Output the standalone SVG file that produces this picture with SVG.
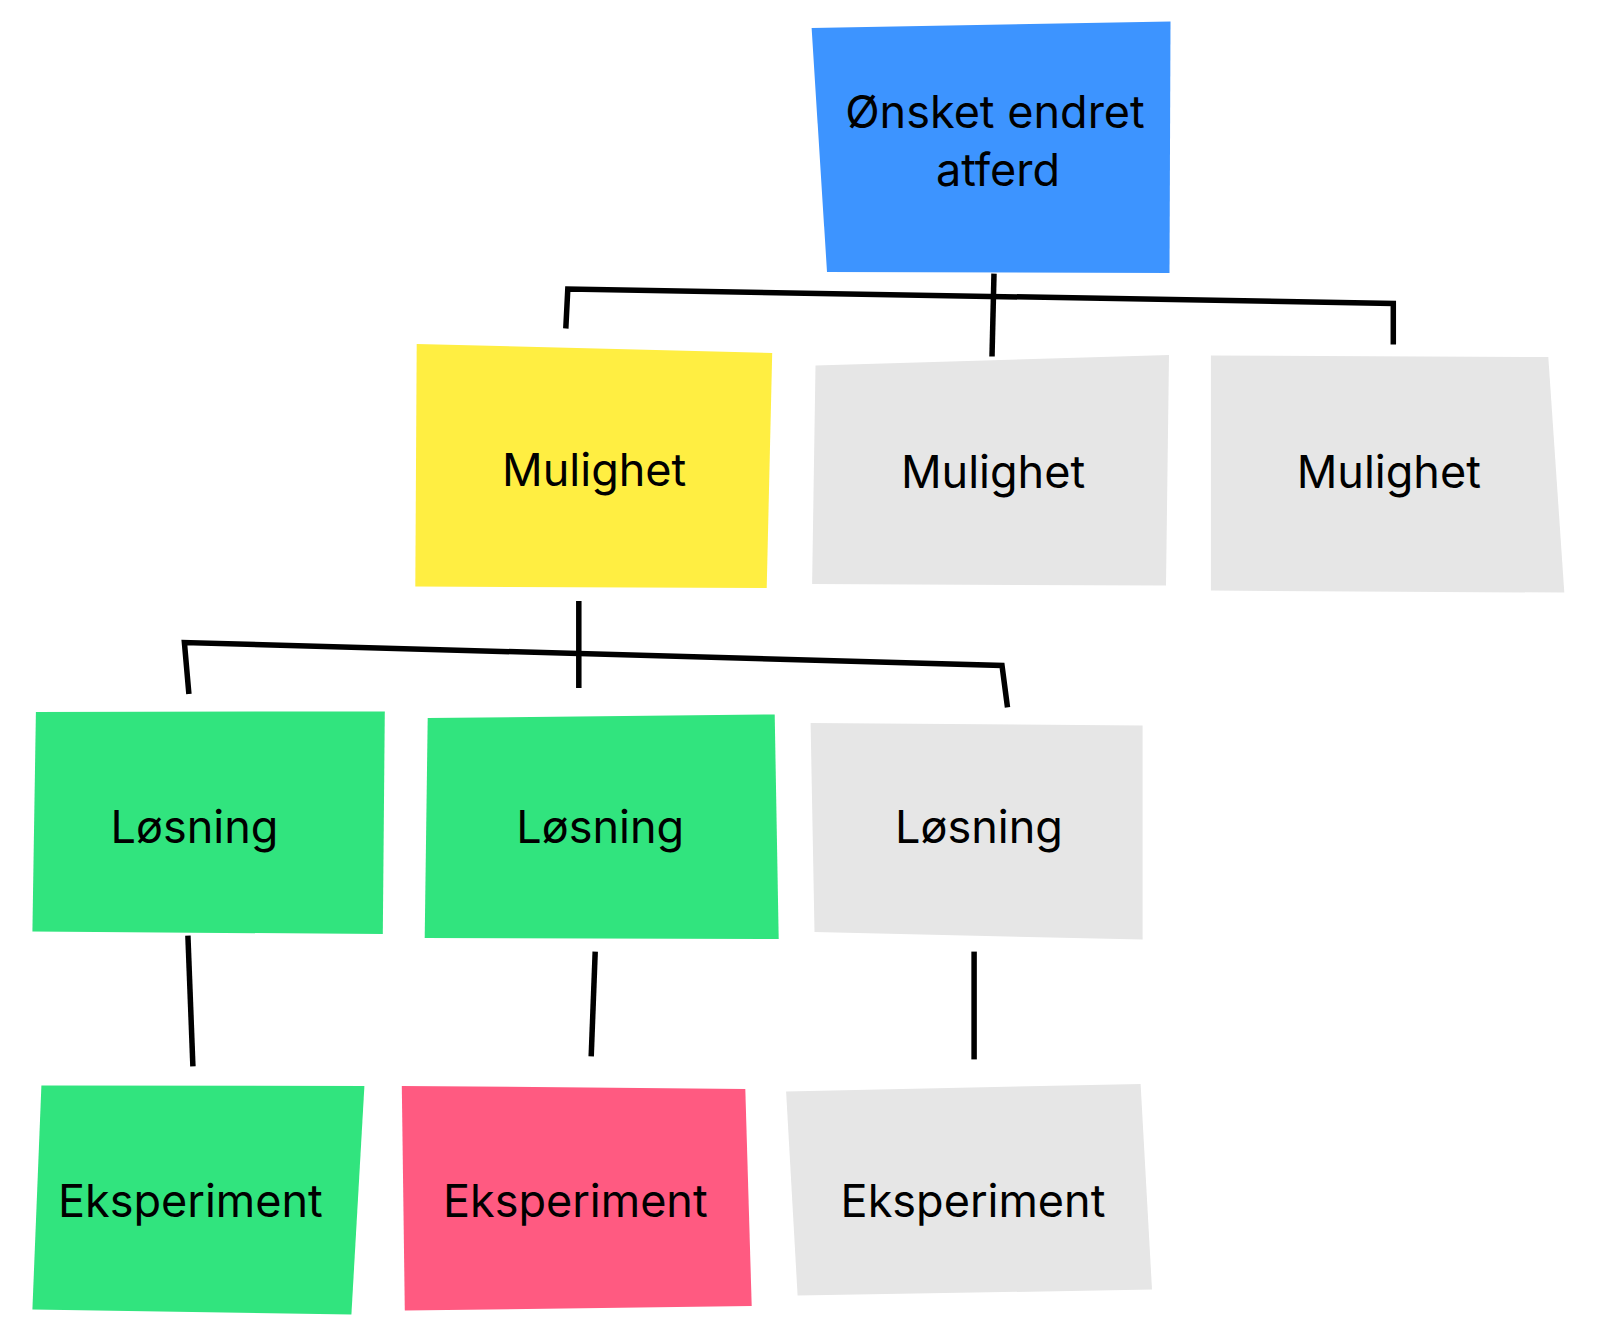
<svg xmlns="http://www.w3.org/2000/svg" width="1600" height="1342" viewBox="0 0 1600 1342">
<style>
.lbl{font-family:Inter,"Liberation Sans",Arial,sans-serif;font-size:45px;font-weight:400;fill:#000;text-anchor:middle}
.ln{fill:none;stroke:#000;stroke-width:5.5;stroke-linejoin:miter;stroke-linecap:butt}
.blue{fill:#3D94FF}.yellow{fill:#FFEE42}.green{fill:#31E47E}.pink{fill:#FF5A81}.gray{fill:#E6E6E6}
</style>
<rect width="1600" height="1342" fill="#fff"/>
<g id="connectors">
<polyline class="ln" points="565.8,328.5 567.8,289 1393.3,303.5 1393.3,344.5"/>
<line class="ln" x1="994" y1="273.6" x2="992" y2="356.5"/>
<polyline class="ln" points="188.9,694 184.4,642.5 1002,665.5 1007.5,707.4"/>
<line class="ln" x1="578.8" y1="601" x2="578.8" y2="688"/>
<line class="ln" x1="187.9" y1="935.6" x2="192.9" y2="1066.4"/>
<line class="ln" x1="595.2" y1="951.6" x2="591.2" y2="1056.4"/>
<line class="ln" x1="974.1" y1="951.6" x2="974.1" y2="1059.4"/>
</g>
<g id="node-goal"><polygon class="blue" points="811.6,28 1170.5,21.5 1169.5,273 827,272"/><text class="lbl" x="995" y="127.5">Ønsket endret</text><text class="lbl" x="998" y="185.5">atferd</text></g>
<g id="node-mulighet-1"><polygon class="yellow" points="416.7,344 772.2,353 766.7,588 415.3,586.6"/><text class="lbl" x="594.2" y="486">Mulighet</text></g>
<g id="node-mulighet-2"><polygon class="gray" points="815.5,365.5 1169,355 1166,585.6 812.1,584"/><text class="lbl" x="993" y="488">Mulighet</text></g>
<g id="node-mulighet-3"><polygon class="gray" points="1210.9,355.5 1548.3,357 1564.3,592.6 1210.9,590.6"/><text class="lbl" x="1388.8" y="488">Mulighet</text></g>
<g id="node-losning-1"><polygon class="green" points="35.9,712 384.8,711.4 382.8,934 32.4,931.6"/><text class="lbl" x="194.4" y="843">Løsning</text></g>
<g id="node-losning-2"><polygon class="green" points="427.7,718 774.7,714.4 778.7,939 424.7,938"/><text class="lbl" x="600.2" y="843">Løsning</text></g>
<g id="node-losning-3"><polygon class="gray" points="810.6,723 1142.6,725.4 1142.6,939.6 814.5,932"/><text class="lbl" x="979" y="843">Løsning</text></g>
<g id="node-eksperiment-1"><polygon class="green" points="41.4,1085.4 364.4,1085.9 351.4,1314.5 32.4,1309.5"/><text class="lbl" x="190.4" y="1216.5">Eksperiment</text></g>
<g id="node-eksperiment-2"><polygon class="pink" points="401.8,1085.9 745.3,1088.9 751.7,1306 404.8,1310.5"/><text class="lbl" x="575.3" y="1216.5">Eksperiment</text></g>
<g id="node-eksperiment-3"><polygon class="gray" points="786.1,1091.4 1140.6,1083.9 1152,1289.6 797.6,1295.6"/><text class="lbl" x="973" y="1216.5">Eksperiment</text></g>
</svg>
